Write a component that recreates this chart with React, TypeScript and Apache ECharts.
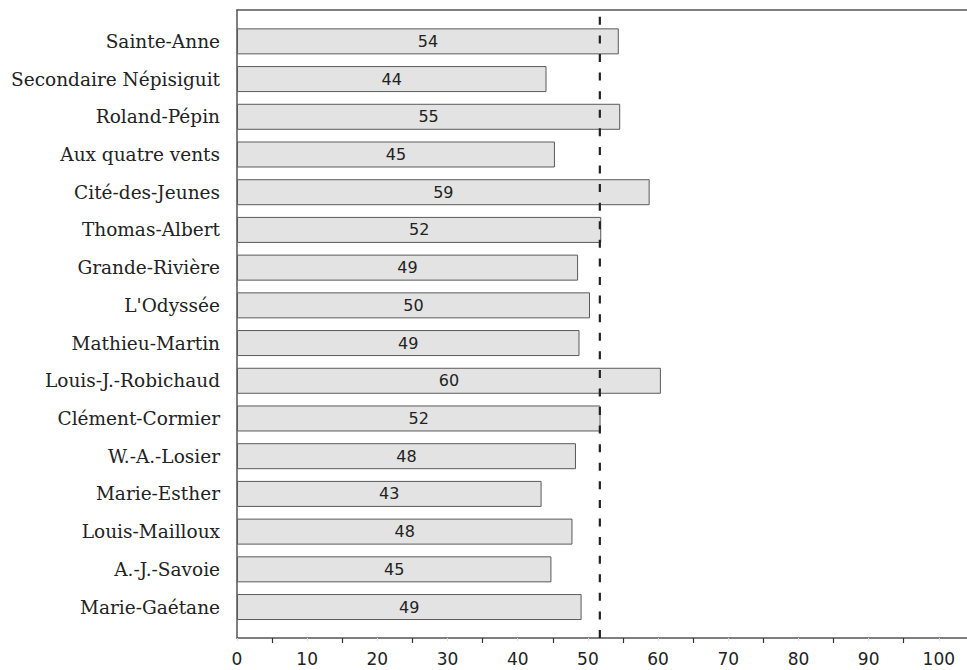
import React, { useEffect, useRef } from 'react';
import * as echarts from 'echarts';

const categories = [
  'Sainte-Anne',
  'Secondaire Népisiguit',
  'Roland-Pépin',
  'Aux quatre vents',
  'Cité-des-Jeunes',
  'Thomas-Albert',
  'Grande-Rivière',
  "L'Odyssée",
  'Mathieu-Martin',
  'Louis-J.-Robichaud',
  'Clément-Cormier',
  'W.-A.-Losier',
  'Marie-Esther',
  'Louis-Mailloux',
  'A.-J.-Savoie',
  'Marie-Gaétane',
];
const values = [54.4, 44.1, 54.6, 45.3, 58.8, 51.9, 48.6, 50.3, 48.8, 60.4, 51.8, 48.3, 43.4, 47.8, 44.8, 49.1];
const referenceValue = 51.7;
const axisMin = 0;
const axisMax = 110;
const axisInterval = 10;
const lastTickLabel = 100;

export default function App() {
  const ref = useRef<HTMLDivElement>(null);
  useEffect(() => {
    if (!ref.current) return;
    const chart = echarts.init(ref.current, undefined, { renderer: 'svg' });
    const axisColor = '#555';
    chart.setOption({
      animation: false,
      backgroundColor: '#ffffff',
      grid: [
        { left: 237, right: 0, top: 22.5, bottom: 44.1 },
        { left: 237, right: 0, top: 10, bottom: 32 },
      ],
      xAxis: [
        { gridIndex: 0, type: 'value', min: axisMin, max: axisMax, show: false },
        {
          gridIndex: 1,
          type: 'value',
          min: axisMin,
          max: axisMax,
          interval: axisInterval,
          position: 'bottom',
          axisLine: { show: true, onZero: false, lineStyle: { color: axisColor, width: 1.5 } },
          axisTick: { show: true, length: 3, lineStyle: { color: '#dddddd' } },
          minorTick: { show: true, splitNumber: 2, length: 5, lineStyle: { color: '#333', width: 1.2 } },
          splitLine: { show: false },
          axisLabel: {
            fontFamily: 'DejaVu Sans',
            fontSize: 17,
            color: '#222',
            margin: 12,
            showMaxLabel: false,
            formatter: (v: number) => (v <= lastTickLabel ? String(v) : ''),
          },
        },
        {
          gridIndex: 1,
          type: 'value',
          min: axisMin,
          max: axisMax,
          position: 'top',
          axisLine: { show: true, onZero: false, lineStyle: { color: axisColor, width: 1.5 } },
          axisTick: { show: false },
          axisLabel: { show: false },
          splitLine: { show: false },
        },
      ],
      yAxis: [
        {
          gridIndex: 0,
          type: 'category',
          data: categories,
          inverse: true,
          axisLine: { show: false },
          axisTick: { show: false },
          axisLabel: { fontFamily: 'DejaVu Serif', fontSize: 18.5, color: '#222', margin: 17 },
        },
        {
          gridIndex: 1,
          type: 'value',
          min: 0,
          max: 1,
          axisLine: { show: true, onZero: false, lineStyle: { color: axisColor, width: 1.5 } },
          axisTick: { show: false },
          axisLabel: { show: false },
          splitLine: { show: false },
        },
      ],
      series: [
        {
          type: 'bar',
          xAxisIndex: 0,
          yAxisIndex: 0,
          data: values,
          barWidth: 26,
          itemStyle: { color: '#e3e3e3', borderColor: '#5a5a5a', borderWidth: 1 },
          label: {
            show: true,
            position: 'inside',
            formatter: (p: any) => String(Math.round(p.value)),
            fontFamily: 'DejaVu Sans',
            fontSize: 16,
            color: '#222',
          },
        },
        {
          type: 'line',
          xAxisIndex: 1,
          yAxisIndex: 1,
          data: [
            [referenceValue, 0],
            [referenceValue, 1],
          ],
          symbol: 'none',
          silent: true,
          lineStyle: { color: '#222', width: 2.2, type: [8, 10.58] },
        },
      ],
    });
    return () => chart.dispose();
  }, []);
  return (
    <div style={{ position: 'fixed', left: 0, top: 0, width: 967, height: 670, overflow: 'hidden', background: '#fff' }}>
      <div ref={ref} style={{ width: 1009, height: 670 }} />
    </div>
  );
}
